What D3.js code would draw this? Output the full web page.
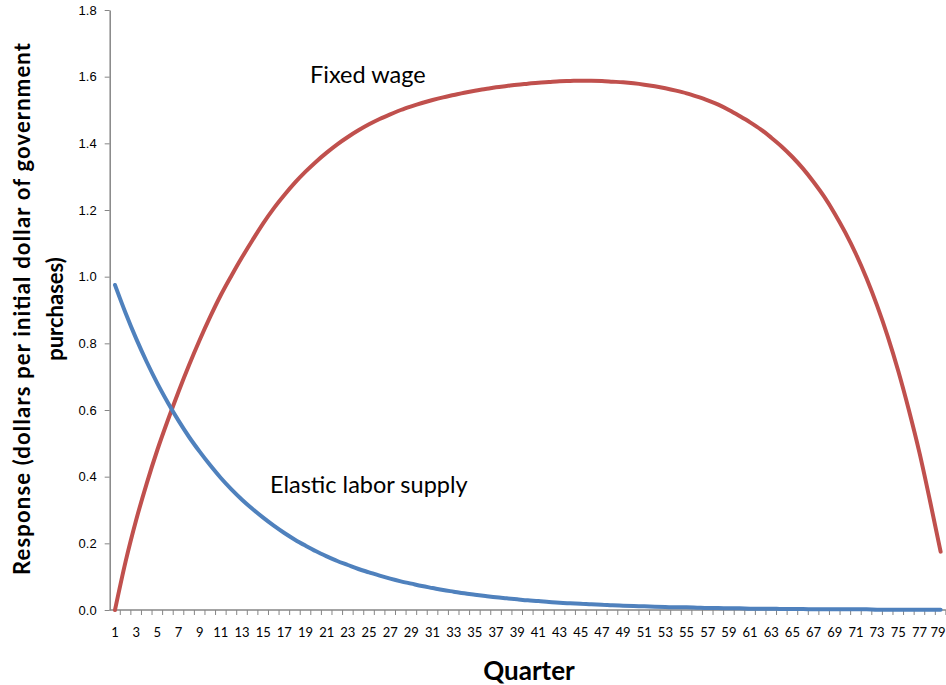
<!DOCTYPE html>
<html>
<head>
<meta charset="utf-8">
<script src="https://cdn.jsdelivr.net/npm/d3@7"></script>
<style>
  body { margin: 0; background: #fff; }
  svg { display: block; font-family: Lato, 'Open Sans', sans-serif; }
</style>
</head>
<body>
<svg id="chart" width="946" height="685"></svg>
<script>
// quarters 1..79
const quarters = [
  1, 2, 3, 4, 5, 6, 7, 8, 9, 10, 11, 12, 13, 14, 15, 16, 17, 18, 19, 20,
  21, 22, 23, 24, 25, 26, 27, 28, 29, 30, 31, 32, 33, 34, 35, 36, 37, 38, 39, 40,
  41, 42, 43, 44, 45, 46, 47, 48, 49, 50, 51, 52, 53, 54, 55, 56, 57, 58, 59, 60,
  61, 62, 63, 64, 65, 66, 67, 68, 69, 70, 71, 72, 73, 74, 75, 76, 77, 78, 79
]

const fixedWage = [
  0, 0.145, 0.27, 0.38, 0.48, 0.57, 0.655, 0.735, 0.81, 0.88,
  0.945, 1.003, 1.058, 1.11, 1.16, 1.205, 1.245, 1.282, 1.315, 1.345,
  1.372, 1.397, 1.419, 1.439, 1.457, 1.473, 1.487, 1.5, 1.511, 1.521,
  1.53, 1.538, 1.545, 1.552, 1.558, 1.563, 1.568, 1.572, 1.576, 1.579,
  1.582, 1.584, 1.586, 1.587, 1.588, 1.588, 1.587, 1.585, 1.583, 1.58,
  1.576, 1.571, 1.565, 1.558, 1.55, 1.54, 1.529, 1.516, 1.5, 1.482,
  1.463, 1.442, 1.417, 1.39, 1.359, 1.324, 1.284, 1.24, 1.189, 1.132,
  1.068, 0.995, 0.913, 0.821, 0.717, 0.6, 0.472, 0.327, 0.175
]

const elasticLabor = [
  0.975, 0.891, 0.814, 0.744, 0.68, 0.622, 0.568, 0.519, 0.475, 0.434,
  0.396, 0.362, 0.331, 0.303, 0.277, 0.253, 0.231, 0.211, 0.193, 0.176,
  0.161, 0.147, 0.135, 0.123, 0.113, 0.103, 0.094, 0.086, 0.079, 0.072,
  0.066, 0.06, 0.055, 0.05, 0.046, 0.042, 0.038, 0.035, 0.032, 0.029,
  0.027, 0.024, 0.022, 0.02, 0.019, 0.017, 0.016, 0.014, 0.013, 0.012,
  0.011, 0.01, 0.009, 0.008, 0.008, 0.007, 0.006, 0.006, 0.005, 0.005,
  0.004, 0.004, 0.004, 0.003, 0.003, 0.003, 0.002, 0.002, 0.002, 0.002,
  0.002, 0.002, 0.001, 0.001, 0.001, 0.001, 0.001, 0.001, 0.001
]

const yTicks = [0, 0.2, 0.4, 0.6, 0.8, 1.0, 1.2, 1.4, 1.6, 1.8]
const xTickLabels = quarters.filter((q) => q % 2 === 1)

const axisColor = '#868686'

const svg = d3.select('#chart')

const x = d3.scaleBand()
  .domain(quarters)
  .range([109.7, 945.9])
  .padding(0)

const y = d3.scaleLinear()
  .domain([0, 1.8])
  .range([610, 10])

const cx = (q) => x(q) + x.bandwidth() / 2

// y axis
const yAxis = svg.append('g')
  .attr('transform', `translate(${x.range()[0]},0)`)
  .call(d3.axisLeft(y).tickValues(yTicks).tickSize(5).tickSizeOuter(0).tickFormat(d3.format('.1f')))
yAxis.select('.domain').attr('stroke', axisColor).attr('stroke-width', 1.5)
yAxis.selectAll('.tick line').attr('stroke', axisColor).attr('stroke-width', 1)
yAxis.selectAll('.tick text')
  .attr('x', -13)
  .attr('fill', '#000')
  .style('font-size', '13px')

// x axis: ticks between categories, labels on odd quarters
const xAxis = svg.append('g')
  .attr('transform', `translate(0,${y(0)})`)
xAxis.append('line')
  .attr('x1', x.range()[0]).attr('x2', x.range()[1])
  .attr('stroke', axisColor).attr('stroke-width', 1.5)
xAxis.selectAll('line.tk')
  .data(quarters.slice(1).concat([null]))
  .join('line')
  .attr('class', 'tk')
  .attr('x1', (d) => d === null ? x.range()[1] : x(d))
  .attr('x2', (d) => d === null ? x.range()[1] : x(d))
  .attr('y1', 0).attr('y2', 5)
  .attr('stroke', axisColor).attr('stroke-width', 1)
xAxis.selectAll('text')
  .data(xTickLabels)
  .join('text')
  // last label sits at the right edge; nudge it in so it is not clipped
  .attr('x', (d) => Math.min(cx(d), 938))
  .attr('y', 23)
  .attr('dy', '0.32em')
  .attr('text-anchor', 'middle')
  .style('font-size', '13px')
  .text((d) => d)

// lines
const line = d3.line()
  .x((d) => cx(d.q))
  .y((d) => y(d.v))
  .curve(d3.curveMonotoneX)

const series = [
  { name: 'Fixed wage', values: fixedWage, color: '#C0504D' },
  { name: 'Elastic labor supply', values: elasticLabor, color: '#4F81BD' }
]

svg.selectAll('path.series')
  .data(series)
  .join('path')
  .attr('class', 'series')
  .attr('fill', 'none')
  .attr('stroke', (d) => d.color)
  .attr('stroke-width', 4)
  .attr('stroke-linecap', 'round')
  .attr('stroke-linejoin', 'round')
  .attr('d', (d) => line(d.values.map((v, i) => ({ q: quarters[i], v }))))

// series labels
svg.append('text')
  .attr('x', 310).attr('y', 83)
  .style('font-size', '23.5px')
  .text('Fixed wage')
svg.append('text')
  .attr('x', 270).attr('y', 493)
  .style('font-size', '23.5px')
  .text('Elastic labor supply')

// axis titles
svg.append('text')
  .attr('x', 529).attr('y', 680)
  .attr('text-anchor', 'middle')
  .style('font-size', '26px')
  .style('font-weight', 'bold')
  .text('Quarter')

const yTitle = svg.append('text')
  .attr('transform', 'translate(0,309) rotate(-90)')
  .attr('text-anchor', 'middle')
  .style('font-size', '22px')
  .style('font-weight', 'bold')
yTitle.append('tspan').attr('x', 0).attr('y', 30)
  .attr('textLength', 532).attr('lengthAdjust', 'spacing')
  .text('Response (dollars per initial dollar of government')
yTitle.append('tspan').attr('x', 0).attr('y', 63)
  .text('purchases)')
</script>
</body>
</html>
